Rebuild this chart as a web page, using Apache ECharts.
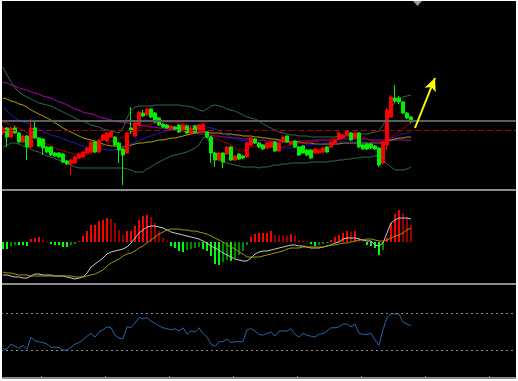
<!DOCTYPE html>
<html>
<head>
<meta charset="utf-8">
<script src="https://cdn.jsdelivr.net/npm/echarts@6/dist/echarts.min.js"></script>
<style>
html,body{margin:0;padding:0;background:#000;}
#c{width:518px;height:381px;}
</style>
</head>
<body>
<div id="c"></div>
<script>
// ---- price panel (candles) ----
const openV = [67,72,63,72,67,58,64,53,72,62, 61,53,53,47,47,46,39,36,37,42, 43,47,48,58,48,60,59,63,63,57,
  51,47,72,64,75,87,85,91,87,82, 76,75,71,73,75,70,74,67,74,70, 68,68,63,47,40,47,46,53,40,46,
  44,43,55,61,57,55,52,53,58,49, 58,64,56,59,53,54,50,50,47,47, 48,53,53,57,61,62,65,67,62,67,
  55,56,56,54,52,37,55,83,102,102, 98,87,83];
const closeV = [72,63,72,67,58,64,53,72,62,54, 52,48,45,44,43,38,36,40,43,46, 48,52,58,48,60,65,67,68,55,50,
  45,67,69,77,88,84,91,83,78,75, 73,72,74,71,68,75,67,72,68,75, 76,63,47,40,47,38,53,40,44,41,
  42,57,62,57,53,51,57,58,49,57, 63,58,58,53,45,47,45,42,51,50, 52,48,58,60,67,65,69,60,67,53,
  51,51,52,51,35,58,90,103,99,98, 87,82,78];
const lowV = [65,53,62,66,57,57,40,52,61,53, 45,47,44,43,42,37,35,25,36,41, 42,46,47,47,47,59,58,62,54,37,
  15,46,66,63,74,83,84,82,77,74, 72,71,70,70,67,69,66,66,67,69, 67,62,37,33,39,32,45,39,39,40,
  41,42,54,56,52,50,51,52,48,48, 57,57,55,52,44,46,44,41,46,46, 47,47,52,56,60,61,64,59,61,52,
  50,50,51,50,33,36,50,82,97,96, 86,81,77];
const highV = [74,73,73,74,68,65,65,81,78,63, 62,54,54,48,48,47,40,41,44,47, 49,53,59,59,61,66,68,69,64,58,
  52,68,93,78,89,90,92,92,88,83, 77,76,75,74,76,76,75,73,75,76, 77,69,64,48,48,48,54,54,45,47,
  45,58,63,62,58,56,58,59,59,58, 65,65,59,60,54,55,51,51,52,51, 53,54,59,61,68,66,70,68,68,68,
  56,57,57,55,53,59,92,105,115,104, 99,88,84];

const bbUpper = [133,125,118,112,108,105,103,101,99,97, 96,95,94,92,90,88,86,84,82,80, 79,77,75,74,73,71,70,69,68,67,
  72,82,90,93,94,94,94,94,95,95, 95,95,95,95,95,94,94,93,92,90, 89,91,94,95,94,93,91,90,89,87,
  85,83,82,81,79,76,74,72,70,68, 67,66,65,65,64,64,64,63,63,63, 63,63,63,63,64,64,64,65,65,65,
  66,66,67,68,69,75,83,91,98,101, 103,104,105];
const bbLower = [53,55,57,57,56,54,53,51,49,48, 46,44,43,41,40,38,37,35,33,32, 32,32,32,32,32,32,32,32,32,32,
  32,31,30,28,28,28,31,33,36,38, 40,42,44,45,46,47,48,50,52,55, 62,64,52,43,40,38,37,36,35,34,
  33,33,33,33,32,33,33,34,35,35, 36,36,37,37,37,37,37,38,38,38, 38,38,39,39,40,40,41,41,42,42,
  43,43,43,44,45,40,36,33,30,30, 30,31,33];
const maRed = [78,77,75,74,72,70,67,65,63,61, 59,56,54,52,50,49,48,47,46,45, 45,45,47,49,51,54,56,59,60,61,
  63,66,68,70,72,74,75,76,77,78, 78,78,78,78,77,76,75,74,73,72, 70,67,64,62,60,58,57,55,52,49,
  49,51,53,54,55,54,53,53,52,52, 53,54,55,56,57,57,57,58,58,59, 60,60,61,62,62,63,63,63,63,63,
  62,61,59,58,58,58,61,63,65,68, 71,74,77];
const maBlue = [93,89,85,82,80,78,77,75,73,71, 68,67,65,64,63,61,60,58,57,55, 54,53,52,52,51,51,50,50,50,51,
  52,54,56,58,59,61,63,64,65,67, 68,69,70,71,72,73,74,74,75,75, 74,73,72,71,69,67,65,63,62,60,
  59,59,58,57,56,55,54,53,53,52, 52,52,52,53,53,54,55,55,56,56, 57,57,57,57,58,58,58,58,58,58,
  58,58,57,57,57,58,60,62,63,65, 66,67,68];
const maYellow = [102,101,99,98,96,95,93,90,88,86, 84,82,80,77,75,72,70,68,66,64, 62,61,60,59,57,56,55,54,54,53,
  53,54,55,56,57,57,58,58,59,60, 60,61,62,62,63,64,65,66,67,68, 68,68,67,67,67,66,66,66,65,65,
  64,64,64,63,63,62,62,61,61,60, 60,59,58,58,58,57,57,57,56,56, 56,56,56,56,56,57,57,57,57,57,
  57,57,57,57,57,57,58,60,61,62, 62,63,63];
const maMagenta = [118,117,115,114,112,111,110,108,107,106, 104,103,102,100,98,97,95,93,91,90, 88,87,86,85,83,82,81,80,79,78,
  78,77,76,76,75,74,74,73,73,72, 72,71,70,70,69,69,68,68,67,66, 66,65,65,64,64,63,63,62,62,62,
  61,61,61,60,60,60,59,59,59,59, 58,58,58,58,59,59,59,59,60,60, 60,60,60,60,61,61,61,61,61,61,
  61,61,60,60,60,60,60,60,60,60, 60,60,60];
const levelGray = 79;
const levelRedDash = 70;
const arrowFrom = [103, 72];
const arrowTo = [108, 122];

// ---- MACD panel ----
const macdHist = [-7,-7,-4,-3,-3,-3,-4,3,4,5, 2,1,-2,-3,-3,-5,-5,-3,-2,1, 6,11,17,17,21,22,24,23,19,12,
  7,11,11,16,22,26,27,25,19,11, 4,1,-4,-6,-9,-10,-8,-7,-6,-5, -7,-9,-14,-22,-23,-20,-18,-19,-16,-13,
  -9,-3,5,8,9,9,9,11,7,6.8, 6.6,6.5,8,6,2,1,0.5,-2,-4,-3, -2,-1,2,5,7,9,11,10,11,4,
  1,-3,-4,-6,-13,-8,4,19,28,32, 29,24,17];
const macdLine = [-33,-33,-34,-35,-35,-36,-36,-34,-32,-32, -33,-33,-33,-34,-34,-34,-35,-36,-37,-36,
  -35,-31,-25,-22,-19,-16,-12,-10,-9,-8, -7,-5,-1,4,9,12,15,16,16,15, 14,12,10,9,8,7,6,5,4,3,
  1,-1,-4,-6,-8,-11,-13,-15,-17,-18, -19,-19,-16,-12,-10,-9,-9,-8,-7,-6, -5,-4,-3,-3,-4,-4,-5,-6,-6,-6,
  -5,-4,-3,-1,0,3,4,4,4,3, 2,1,1,-3,-4,-1,9,19,22,24, 24,24,23];
const signalLine = [-30,-31,-31,-32,-33,-33,-33,-34,-34,-34, -34,-34,-34,-34,-34,-34,-34,-34,-35,-35,
  -35,-34,-33,-32,-30,-28,-24,-21,-19,-17, -14,-12,-11,-9,-6,-4,-1,2,5,8, 10,12,13,13,13,12,12,11,11,10,
  9,8,6,4,2,0,-3,-5,-7,-10, -12,-15,-15,-15,-15,-14,-13,-12,-11,-10, -9,-7,-6,-6,-6,-5,-5,-5,-5,-5,
  -5,-4,-3,-3,-2,-1,-1,0,1,2, 2,3,3,2,1,1,2,4,6,7, 9,12,14];

// ---- RSI panel ----
const rsiLine = [31,31,36.5,34,32,35,31,44,40,39, 38,36.5,33,33,33,30,30,33,36.5,38, 41,45,48,44,49.5,52,55,54,46,43,
  42,55,54,59,65,63.5,65,61,59,56, 54,53,52,53,50.5,54,47,50.5,49.5,54, 48,44,36.5,34,39,39,42,38,39,39,
  39,52,53,50.5,47,46,48,49.5,45,50.5, 50.5,50.5,53,47,44,48,46,45,44,47, 48,50.5,54,54,55,58,58,55,58,48,
  47,47,48,41,35,52,65,69,69,69, 60,58,56];
const rsiLevels = [70, 30];

const SLOTS = 129;
const categories = Array.from({length: SLOTS}, (_, i) => String(i + 1));

const candleData = openV.map((o, i) => [o, closeV[i], lowV[i], highV[i]]);

function histColor(p) {
  const i = p.dataIndex, v = macdHist[i], prev = i > 0 ? macdHist[i - 1] : v;
  if (v >= 0) return v >= prev ? '#ff0000' : '#9a0000';
  return v <= prev ? '#00ff00' : '#008a00';
}

function line(name, data, color, xi, yi, z) {
  return {name, type: 'line', data, xAxisIndex: xi, yAxisIndex: yi, symbol: 'none',
    lineStyle: {color, width: 1}, z: z || 2, silent: true};
}

const chart = echarts.init(document.getElementById('c'), null, {renderer: 'canvas'});
const hiddenY = {show: false};
chart.setOption({
  animation: false,
  backgroundColor: '#000',
  grid: [
    {left: 1, width: 516, top: 2, height: 186},
    {left: 1, width: 516, top: 191, height: 92},
    {left: 1, width: 516, top: 285, height: 93}
  ],
  xAxis: [0, 1, 2].map(g => ({
    type: 'category', data: categories, gridIndex: g, boundaryGap: true,
    axisLine: {show: false}, axisLabel: {show: false}, splitLine: {show: false},
    axisTick: g === 2 ? {show: true, inside: true, length: 2, lineStyle: {color: '#8c8c8c'},
      interval: (idx) => idx >= 10 && (idx - 10) % 16 === 0} : {show: false}
  })),
  yAxis: [
    Object.assign({type: 'value', gridIndex: 0, min: 12, max: 198, splitLine: {show: false}}, hiddenY),
    Object.assign({type: 'value', gridIndex: 1, min: -41, max: 51, splitLine: {show: false}}, hiddenY),
    Object.assign({type: 'value', gridIndex: 2, min: 0, max: 100, splitLine: {show: false}}, hiddenY)
  ],
  series: [
    line('BB upper', bbUpper, '#2e6a46', 0, 0),
    line('BB lower', bbLower, '#2e6a46', 0, 0),
    line('MA magenta', maMagenta, '#b000b0', 0, 0),
    line('MA yellow', maYellow, '#b0a000', 0, 0),
    line('MA blue', maBlue, '#1a1ac0', 0, 0),
    line('MA red', maRed, '#a00000', 0, 0),
    {
      name: 'price', type: 'candlestick', data: candleData, xAxisIndex: 0, yAxisIndex: 0,
      barWidth: 3, z: 3, silent: true,
      itemStyle: {color: '#ff0000', color0: '#00ee00', borderColor: '#ff0000', borderColor0: '#00ee00', borderWidth: 1},
      markLine: {
        silent: true, animation: false,
        label: {show: false},
        data: [
          {yAxis: levelGray, symbol: 'none', lineStyle: {color: '#5e5e5e', width: 2, type: 'solid'}},
          {yAxis: levelRedDash, symbol: 'none', lineStyle: {color: '#b00000', width: 1, type: [6, 3]}},
          [
            {coord: arrowFrom, symbol: 'none', lineStyle: {color: '#ffff00', width: 2, type: 'solid'}},
            {coord: arrowTo, symbol: 'arrow', symbolSize: [9, 13]}
          ]
        ],
        symbol: ['none', 'none']
      }
    },
    {
      name: 'MACD hist', type: 'bar', data: macdHist, xAxisIndex: 1, yAxisIndex: 1,
      barWidth: 2, silent: true, itemStyle: {color: histColor}
    },
    line('MACD', macdLine, '#c8c8c8', 1, 1, 3),
    line('Signal', signalLine, '#a09600', 1, 1, 3),
    {
      name: 'RSI', type: 'line', data: rsiLine, xAxisIndex: 2, yAxisIndex: 2, symbol: 'none',
      lineStyle: {color: '#2464a8', width: 1}, silent: true,
      markLine: {
        silent: true, symbol: 'none', label: {show: false},
        lineStyle: {color: '#8a8a8a', width: 1, type: [2, 3]},
        data: rsiLevels.map(v => ({yAxis: v}))
      }
    }
  ],
  graphic: [
    {type: 'rect', z: 100, shape: {x: 2, y: 189, width: 514, height: 2}, style: {fill: '#8c8c8c'}},
    {type: 'rect', z: 100, shape: {x: 2, y: 283, width: 514, height: 2}, style: {fill: '#8c8c8c'}},
    {type: 'rect', z: 100, shape: {x: 2, y: 377, width: 514, height: 2}, style: {fill: '#8c8c8c'}},
    {type: 'polygon', z: 100, shape: {points: [[413, 1], [422, 1], [417.5, 6]]}, style: {fill: '#8b9bb0'}},
    {type: 'rect', z: 110, shape: {x: 0, y: 0, width: 2, height: 381}, style: {fill: '#ffffff'}},
    {type: 'rect', z: 110, shape: {x: 0, y: 0, width: 518, height: 1}, style: {fill: '#ffffff'}},
    {type: 'rect', z: 110, shape: {x: 516, y: 0, width: 2, height: 381}, style: {fill: '#ffffff'}},
    {type: 'rect', z: 110, shape: {x: 0, y: 379, width: 518, height: 2}, style: {fill: '#ffffff'}}
  ]
});
</script>
</body>
</html>
